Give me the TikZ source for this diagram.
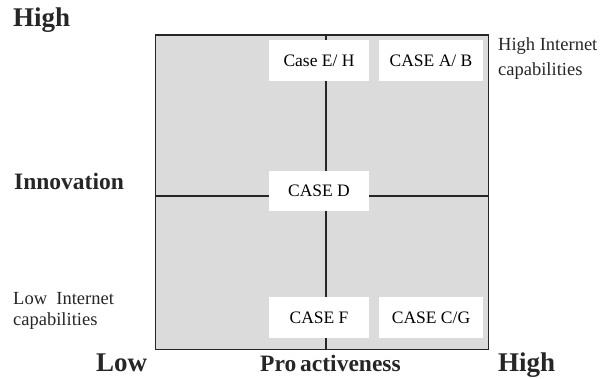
\documentclass[tikz,border=0pt]{standalone}
\usepackage{fontspec}
\setmainfont{Liberation Serif}
\begin{document}
\begin{tikzpicture}[x=1pt,y=-1pt,
  casebox/.style={fill=white,draw=none,inner sep=0pt,minimum height=41pt,font=\fontsize{17.5}{19}\selectfont},
  axislabel/.style={anchor=base west,inner sep=0pt,font=\fontsize{27}{29}\selectfont\bfseries,text=black!85},
  sidelabel/.style={anchor=base west,inner sep=0pt,text=black!85},
  gridline/.style={draw=black!85,line width=1.2pt}]
\useasboundingbox (0,0) rectangle (602,379);
\node[draw=black!85,line width=1.3pt,fill=black!14,minimum width=333pt,minimum height=314pt,inner sep=0pt,anchor=north west] (sq) at (154.5,34.5) {};
\coordinate (midx) at (326,0);
\coordinate (midy) at (0,196);
\draw[gridline] (sq.north -| midx) -- (sq.south -| midx);
\draw[gridline] (sq.west |- midy) -- (sq.east |- midy);
\node[casebox,minimum width=100pt] (eh) at (319,60.5) {Case E/ H};
\node[casebox,minimum width=104pt] (ab) at (431,60.5) {CASE A/ B};
\node[casebox,minimum width=100pt,minimum height=40pt] (d) at (319,191) {CASE D};
\node[casebox,minimum width=100pt] (f) at (319,317.5) {CASE F};
\node[casebox,minimum width=104pt] (cg) at (431,317.5) {CASE C/G};
\node[axislabel] (hightop) at (13,27) {High};
\node[axislabel,font=\fontsize{23.5}{26}\selectfont\bfseries] (innov) at (14,190) {Innovation};
\node[axislabel] (low) at (96,371) {Low};
\node[axislabel,font=\fontsize{23.5}{26}\selectfont\bfseries] (proact) at (260,371) {Pro\,activeness};
\node[axislabel] (highbot) at (498,371) {High};
\node[sidelabel,font=\fontsize{18.5}{22}\selectfont] (hic1) at (498,51) {High Internet};
\node[sidelabel,font=\fontsize{18.5}{22}\selectfont] (hic2) at (498,76) {capabilities};
\node[sidelabel,font=\fontsize{18.5}{22}\selectfont] (lic1) at (13,305) {Low\ \ Internet};
\node[sidelabel,font=\fontsize{18.5}{22}\selectfont] (lic2) at (13,325) {capabilities};
\end{tikzpicture}
\end{document}
